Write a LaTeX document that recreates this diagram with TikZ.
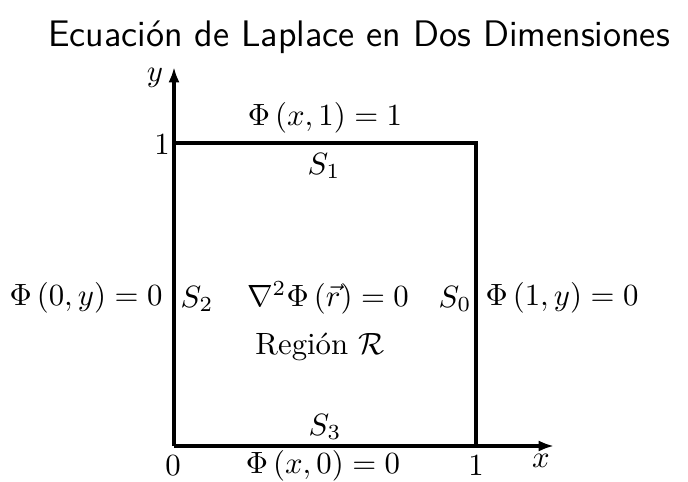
\documentclass[tikz,border=0pt]{standalone}
\usepackage{amsmath}
\usetikzlibrary{arrows.meta}
\begin{document}
\begin{tikzpicture}[x=0.325pt,y=-0.325pt,
  axis/.style={line width=1pt,-{Latex[length=5pt,width=3.6pt]}},
  border/.style={line width=1pt},
  lbl/.style={inner sep=0pt}]
\useasboundingbox (0,0) rectangle (688,482);
\coordinate (O) at (174,446);
\coordinate (A) at (476,446);
\coordinate (B) at (476,143);
\coordinate (C) at (174,143);
\coordinate (ytip) at (174,67);
\coordinate (xtip) at (554,446);
\node[lbl,font=\sffamily\large] (title) at (359,37) {Ecuación de Laplace en Dos Dimensiones};
\draw[border] (C) -- (B) -- (A);
\draw[axis] (O) -- (xtip);
\draw[axis] (O) -- (ytip);
\node[lbl] (ylab) at (155,78) {$y$};
\node[lbl] (xlab) at (541,461) {$x$};
\node[lbl] (y1) at (162,145) {$1$};
\node[lbl] (top) at (325,118) {$\Phi\left(x,1\right)=1$};
\node[lbl] (s1) at (324,166) {$S_1$};
\node[lbl] (left) at (86,298) {$\Phi\left(0,y\right)=0$};
\node[lbl] (s2) at (197,299) {$S_2$};
\node[lbl] (lap) at (328,298) {$\nabla^2\Phi\left(\vec{r}\right)=0$};
\node[lbl] (s0) at (455,299) {$S_0$};
\node[lbl] (right) at (562,298) {$\Phi\left(1,y\right)=0$};
\node[lbl] (reg) at (320,347) {Región $\mathcal{R}$};
\node[lbl] (s3) at (325,427) {$S_3$};
\node[lbl] (x0) at (173,466) {$0$};
\node[lbl] (bot) at (323,466) {$\Phi\left(x,0\right)=0$};
\node[lbl] (x1) at (476,466) {$1$};
\end{tikzpicture}
\end{document}
